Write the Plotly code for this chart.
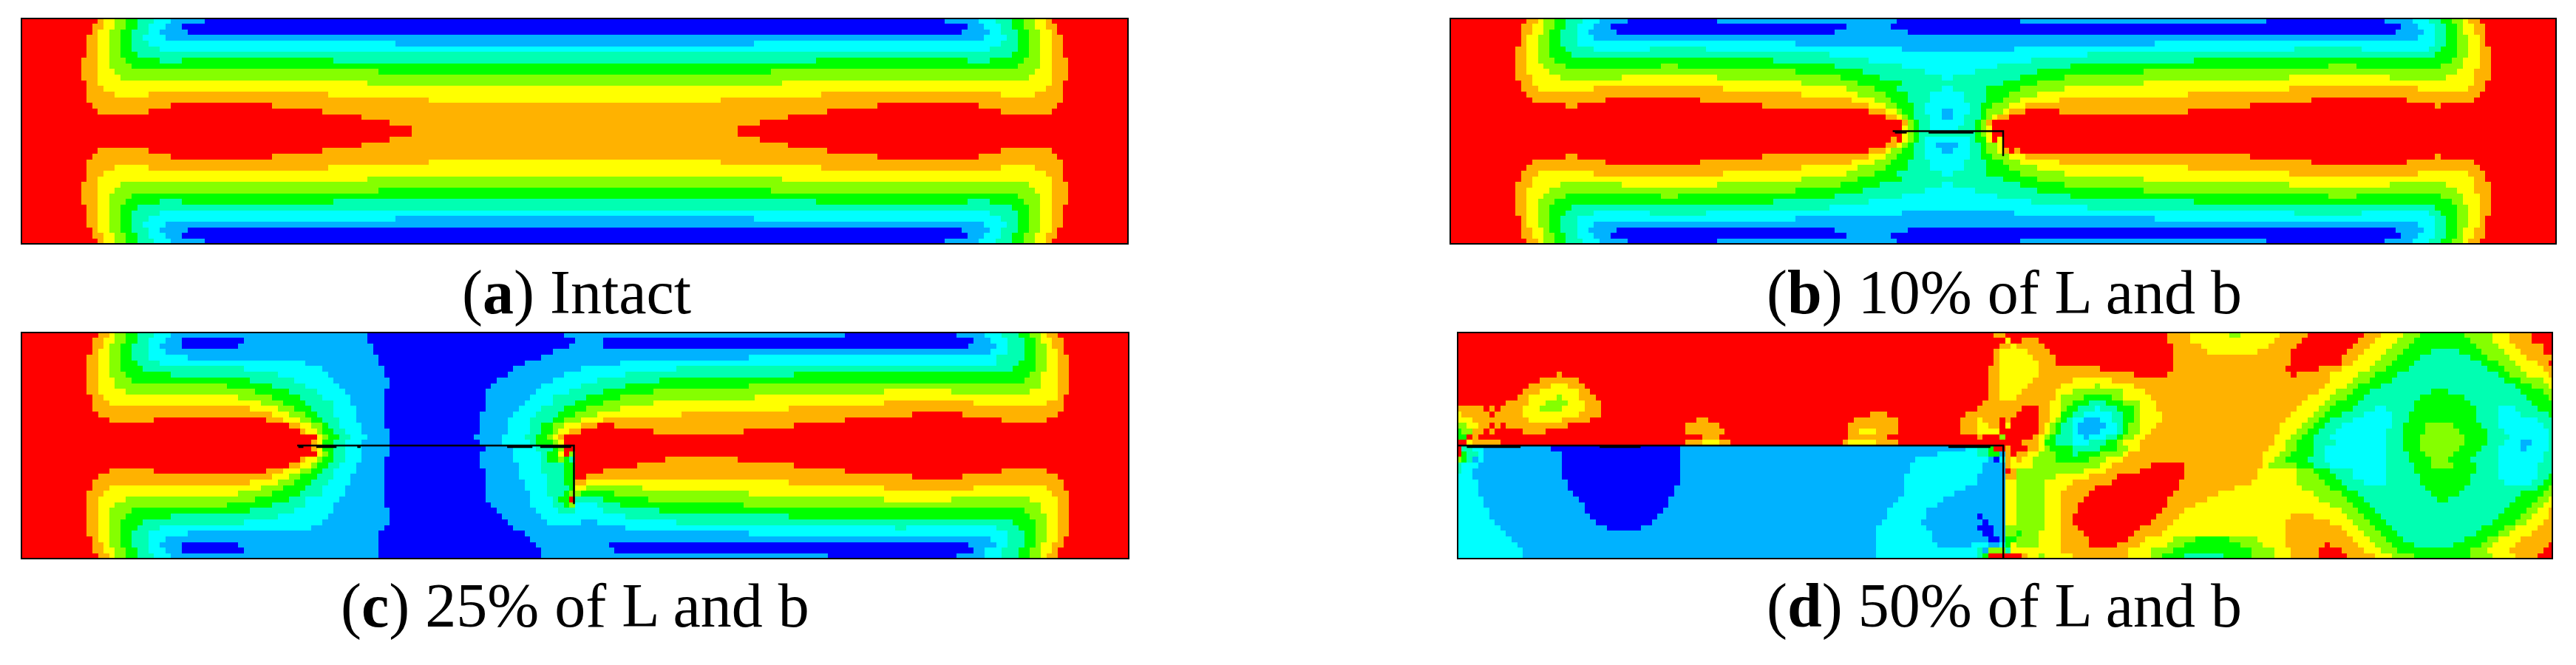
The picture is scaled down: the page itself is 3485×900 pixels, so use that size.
#!/usr/bin/env python3
"""Four stress contour panels on a beam, read off the picture row by row."""
import plotly.graph_objects as go

W, H = 3485, 900

# contour bands, lowest to highest
BAND_COLORS = ["#0000FF", "#00B2FF", "#00FFFF", "#00FFB2", "#00FF00",
               "#85FF00", "#FFFF00", "#FFB200", "#FF0000"]

# each row is "band:end_node", runs of one band up to that node
PANEL_A_TOP_LEFT = [
    "8:14 7:15 6:17 5:19 4:21 3:24 2:27 1:33 0:99",
    "8:13 7:15 6:17 5:19 4:21 3:23 2:26 1:29 0:99",
    "8:13 7:14 6:16 5:18 4:20 3:23 2:25 1:30 0:99",
    "8:12 7:14 6:16 5:18 4:20 3:22 2:26 1:99",
    "8:12 7:14 6:16 5:18 4:20 3:23 2:67 1:99",
    "8:12 7:14 6:16 5:18 4:20 3:25 2:99",
    "8:12 7:14 6:16 5:18 4:21 3:99",
    "8:11 7:14 6:16 5:19 4:25 3:29 4:56 3:99",
    "8:11 7:14 6:16 5:20 4:99",
    "8:11 7:14 6:17 5:64 4:99",
    "8:11 7:14 6:18 5:99",
    "8:12 7:14 6:62 5:99",
    "8:12 7:15 6:99",
    "8:12 7:17 6:23 7:55 6:99",
    "8:12 7:73 6:99",
    "8:13 7:27 8:45 7:99",
    "8:14 7:23 8:54 7:99",
    "8:61 7:99",
    "8:66 7:99",
    "8:70 7:99",
]

PANEL_B_OUTER = [
    "8:14 7:16 6:17 5:19 4:21 3:24 2:27 1:32 0:48 1:80 0:102 1:146 0:167 1:172 2:175 3:177 4:179 5:181 6:182 7:184 8:198",
    "8:13 7:15 6:17 5:19 4:21 3:23 2:26 1:29 0:71 1:79 0:170 1:173 2:176 3:178 4:180 5:181 6:183 7:185 8:198",
    "8:13 7:15 6:17 5:18 4:20 3:23 2:25 1:30 0:69 1:82 0:169 1:174 2:176 3:178 4:180 5:181 6:183 7:185 8:198",
    "8:13 7:14 6:16 5:18 4:20 3:23 2:26 1:173 2:176 3:178 4:180 5:182 6:184 7:185 8:198",
    "8:13 7:14 6:16 5:18 4:20 3:23 2:62 1:126 2:176 3:178 4:180 5:182 6:184 7:185 8:198",
    "8:12 7:14 6:16 5:18 4:21 3:26 2:36 3:46 2:81 1:101 2:151 3:163 2:175 3:177 4:180 5:182 6:184 7:186 8:198",
    "8:12 7:14 6:16 5:18 4:22 3:68 2:114 3:176 4:180 5:182 6:184 7:186 8:198",
    "8:12 7:14 6:16 5:19 4:58 3:75 2:104 3:133 4:179 5:181 6:184 7:186 8:198",
    "8:12 7:14 6:17 5:21 4:38 5:41 4:69 3:81 2:98 3:111 4:157 5:162 4:177 5:181 6:184 7:186 8:198",
    "8:12 7:14 6:18 5:62 4:74 3:85 2:94 3:105 4:124 5:180 6:183 7:186 8:198",
    "8:12 7:15 6:20 5:31 6:48 5:70 4:77 3:88 2:90 3:102 4:110 5:150 6:168 5:178 6:183 7:186 8:198",
    "8:13 7:15 6:63 5:73 4:81 3:99 4:105 5:124 6:183 7:185 8:198",
    "8:13 7:16 6:26 7:49 6:71 5:76 4:80 3:88 2:90 3:96 4:102 5:110 6:150 7:173 6:182 7:185 8:198",
    "8:14 7:63 6:73 5:78 4:82 3:86 2:92 3:96 4:100 5:105 6:132 7:184 8:198",
    "8:15 7:28 8:45 7:72 6:76 5:79 4:82 3:86 2:92 3:96 4:99 5:102 6:109 7:154 8:171 7:183 8:198",
    "8:21 7:23 8:56 7:75 6:78 5:80 4:83 3:85 2:93 3:95 4:97 5:100 6:103 7:143 8:176 7:177 8:198",
]
# the rows round the crack are not mirrored
PANEL_B_MIDDLE = [
    "8:75 7:78 6:80 5:81 4:83 3:85 2:88 1:90 2:93 3:95 4:96 5:99 6:100 7:103 8:109 7:132 8:198",
    "8:78 7:80 6:81 5:82 4:83 3:86 2:88 1:90 2:92 3:95 4:96 5:97 6:98 7:100 8:198",
    "8:81 7:82 5:83 4:84 3:86 2:92 3:94 4:95 5:96 7:97 8:198",
    "8:81 6:82 5:83 4:84 3:86 2:91 3:94 4:95 5:96 6:97 8:198",
    "8:81 6:82 5:83 4:84 3:94 4:95 5:96 6:97 8:198",
    "8:79 7:80 8:81 6:82 5:83 4:84 3:85 2:93 3:94 4:96 6:97 8:98 6:99 8:198",
    "8:78 7:80 6:81 5:82 4:83 3:85 2:87 1:91 2:93 3:95 4:96 5:98 6:99 8:198",
    "8:75 7:78 6:79 5:81 4:83 3:85 2:88 1:90 2:93 3:95 4:96 5:98 6:99 7:100 8:101 7:102 8:198",
]

PANEL_C_ROWS = [
    "8:14 7:16 6:17 5:19 4:21 3:24 2:27 1:62 0:97 1:147 0:167 1:172 2:175 3:178 4:180 5:182 6:183 7:185 8:198",
    "8:13 7:15 6:17 5:19 4:21 3:23 2:26 1:29 0:40 1:62 0:99 1:104 0:170 1:173 2:176 3:179 4:181 5:182 6:184 7:186 8:198",
    "8:13 7:15 6:16 5:18 4:20 3:23 2:25 1:29 0:39 1:63 0:98 1:104 0:169 1:174 2:176 3:179 4:181 5:183 6:184 7:186 8:198",
    "8:13 7:14 6:16 5:18 4:20 3:23 2:26 1:63 0:95 1:173 2:176 3:179 4:181 5:183 6:185 7:186 8:198",
    "8:12 7:14 6:16 5:18 4:20 3:23 2:30 1:64 0:93 1:130 2:174 3:179 4:181 5:183 6:185 7:187 8:198",
    "8:12 7:14 6:16 5:18 4:21 3:25 2:51 1:64 0:90 1:107 2:174 3:178 4:181 5:183 6:185 7:187 8:198",
    "8:12 7:14 6:16 5:18 4:22 3:40 2:54 1:65 0:88 1:100 2:117 3:177 4:181 5:183 6:185 7:187 8:198",
    "8:12 7:14 6:16 5:19 4:27 3:46 2:55 1:65 0:87 1:97 2:108 3:138 4:180 5:182 6:185 7:187 8:198",
    "8:12 7:14 6:17 5:20 4:41 3:49 2:56 1:66 0:85 1:95 2:103 3:114 4:179 5:182 6:185 7:187 8:198",
    "8:12 7:14 6:17 5:37 4:45 3:51 2:57 1:66 0:84 1:93 2:100 3:108 4:130 5:182 6:185 7:187 8:198",
    "8:12 7:14 6:19 5:42 4:48 3:53 2:58 1:65 0:83 1:92 2:98 3:104 4:113 5:154 6:166 5:180 6:185 7:187 8:198",
    "8:13 7:15 6:39 5:45 4:50 3:54 2:59 1:65 0:83 1:91 2:95 3:101 4:107 5:131 6:185 7:186 8:198",
    "8:13 7:16 6:43 5:47 4:51 3:56 2:59 1:65 0:83 1:90 2:95 3:99 4:104 5:113 6:154 7:170 6:183 7:186 8:198",
    "8:13 7:41 6:46 5:49 4:52 3:56 2:60 1:65 0:83 1:89 2:93 3:97 4:101 5:107 6:137 7:186 8:198",
    "8:14 7:45 6:48 5:51 4:53 3:56 2:60 1:65 0:82 1:88 2:92 3:96 4:99 5:103 6:118 7:159 8:168 7:185 8:198",
    "8:16 7:24 8:44 7:47 6:50 5:52 4:54 3:57 2:60 1:65 0:82 1:87 2:91 3:95 4:97 5:100 6:104 7:147 8:175 7:183 8:198",
    "8:48 7:50 6:52 5:54 4:55 3:57 2:61 1:65 0:82 1:87 2:91 3:93 4:95 5:97 6:100 7:103 8:106 7:138 8:198",
    "8:50 7:51 6:53 5:54 4:56 3:58 2:61 1:66 0:82 1:87 2:91 3:93 4:95 5:96 6:98 7:100 8:113 7:129 8:198",
    "8:53 6:54 5:55 4:57 3:59 2:62 1:66 0:81 1:86 2:90 3:92 4:94 5:95 6:96 7:97 8:198",
    "8:52 7:53 6:54 4:56 3:58 2:61 1:66 0:82 1:86 2:91 3:92 4:95 5:96 6:97 8:198",
    "8:52 7:53 6:54 4:56 3:58 2:61 1:66 0:83 1:88 2:92 3:95 4:96 5:97 8:198",
    "8:53 6:54 5:55 4:56 3:58 2:61 1:66 0:82 1:88 2:93 3:94 4:96 6:97 8:98 5:99 8:198",
    "8:50 7:51 6:53 5:54 4:56 3:58 2:61 1:65 0:82 1:88 2:93 3:94 4:96 5:97 4:98 3:99 8:115 7:128 8:198",
    "8:48 7:50 6:52 5:53 4:55 3:57 2:60 1:65 0:82 1:89 2:93 3:97 4:99 8:110 7:138 8:198",
    "8:16 7:24 8:44 7:47 6:50 5:52 4:54 3:56 2:60 1:65 0:83 1:89 2:93 3:97 4:99 8:104 7:147 8:175 7:183 8:198",
    "8:14 7:45 6:48 5:50 4:53 3:56 2:59 1:65 0:83 1:89 2:94 3:97 4:99 8:101 7:159 8:168 7:185 8:198",
    "8:13 7:41 6:46 5:49 4:52 3:55 2:59 1:65 0:83 1:90 2:94 3:97 4:99 7:101 6:137 7:186 8:198",
    "8:13 7:16 6:43 5:47 4:51 3:54 2:58 1:65 0:83 1:90 2:94 3:98 4:99 6:101 5:111 6:154 7:170 6:183 7:186 8:198",
    "8:12 7:15 6:39 5:45 4:50 3:54 2:58 1:65 0:83 1:91 2:94 3:97 4:98 5:100 4:106 5:130 6:184 7:187 8:198",
    "8:12 7:14 6:19 5:42 4:48 3:51 2:57 1:65 0:83 1:91 2:95 3:96 4:98 8:99 3:104 4:112 5:154 6:166 5:180 6:185 7:187 8:198",
    "8:12 7:14 6:17 5:37 4:45 3:51 2:56 1:65 0:84 1:91 2:95 3:97 4:98 5:99 2:103 3:107 4:129 5:182 6:185 7:187 8:198",
    "8:12 7:14 6:16 5:20 4:41 3:49 2:56 1:66 0:85 1:92 2:96 3:99 2:104 3:114 4:179 5:182 6:185 7:187 8:198",
    "8:12 7:14 6:16 5:19 4:27 3:46 2:55 1:66 0:86 1:93 2:108 3:137 4:180 5:183 6:185 7:187 8:198",
    "8:12 7:14 6:16 5:18 4:22 3:40 2:54 1:66 0:87 1:94 2:100 1:103 2:117 3:177 4:181 5:183 6:185 7:187 8:198",
    "8:12 7:14 6:16 5:18 4:21 3:25 2:52 1:65 0:88 1:108 2:156 3:158 2:174 3:178 4:181 5:183 6:185 7:187 8:198",
    "8:12 7:14 6:16 5:18 4:20 3:23 2:30 1:64 0:90 1:130 2:176 3:179 4:181 5:183 6:185 7:187 8:198",
    "8:13 7:14 6:16 5:18 4:20 3:23 2:26 1:64 0:91 1:173 2:176 3:179 4:181 5:183 6:185 7:186 8:198",
    "8:13 7:15 6:16 5:18 4:20 3:23 2:25 1:29 0:39 1:64 0:92 1:105 0:169 1:174 2:176 3:179 4:181 5:182 6:184 7:186 8:198",
    "8:13 7:15 6:17 5:19 4:21 3:23 2:26 1:29 0:40 1:64 0:93 1:106 0:170 1:172 2:175 3:178 4:180 5:182 6:184 7:185 8:198",
    "8:14 7:16 6:17 5:19 4:21 3:24 2:27 1:64 0:93 1:144 0:167 1:172 2:175 3:178 4:180 5:182 6:183 7:185 8:198",
]

PANEL_D_ROWS = [
    "8:96 7:98 8:127 7:131 6:138 5:140 6:147 7:152 8:162 7:165 6:169 5:172 4:180 5:185 6:188 7:192 8:196",
    "8:98 6:99 8:101 7:104 8:127 7:131 6:146 7:151 8:161 7:164 6:168 5:171 4:181 5:185 6:188 7:192 8:196",
    "8:97 7:99 6:100 7:105 8:128 7:133 6:145 7:150 8:160 7:163 6:167 5:170 4:182 5:186 6:189 7:194 8:196",
    "8:96 7:97 6:102 7:106 8:128 7:134 6:143 7:149 8:159 7:162 6:166 5:169 4:174 3:179 4:183 5:187 6:190 7:194 8:196",
    "8:96 7:97 6:103 7:107 8:128 7:149 8:158 7:161 6:165 5:168 4:172 3:181 4:184 5:188 6:191 7:196",
    "8:96 7:97 6:104 7:107 8:128 7:149 8:158 7:160 6:164 5:167 4:171 3:183 4:186 5:189 6:193 7:195 8:196",
    "8:95 7:97 6:104 7:115 8:128 7:148 8:154 7:158 6:163 5:166 4:170 3:184 4:187 5:190 6:194 7:196",
    "8:18 7:19 8:95 7:97 6:104 7:121 8:127 7:149 8:150 7:156 6:161 5:164 4:168 3:186 4:188 5:191 6:195 7:196",
    "8:15 7:22 8:95 7:97 6:103 7:110 6:117 7:156 6:160 5:163 4:167 3:187 4:190 5:194 6:196",
    "8:13 7:17 6:20 7:23 8:95 7:97 6:102 7:108 6:114 5:115 6:121 7:155 6:159 5:161 4:165 3:189 4:192 5:195 6:196",
    "8:12 7:15 6:22 7:24 8:95 7:97 6:101 7:107 6:110 5:119 6:123 7:154 6:157 5:160 4:163 3:174 4:177 3:190 4:194 5:196",
    "8:11 7:13 6:18 5:19 6:22 7:25 8:95 7:97 6:100 7:107 6:108 5:112 4:117 5:119 6:124 7:152 6:156 5:159 4:162 3:172 4:180 3:191 4:195 5:196",
    "8:9 7:13 6:16 5:20 6:23 7:26 8:94 7:106 6:108 5:110 4:113 3:116 4:119 5:122 6:125 7:151 6:155 5:157 4:161 3:171 4:181 3:192 4:196",
    "7:5 8:6 7:7 8:8 7:12 6:15 5:19 6:23 7:26 8:93 7:101 8:104 7:106 6:108 5:109 4:111 3:114 2:115 3:118 4:121 5:122 6:125 7:150 6:154 5:156 4:160 3:164 2:166 3:171 4:182 3:186 2:189 3:193 4:196",
    "6:1 7:6 8:7 7:12 6:22 7:26 8:74 7:77 8:91 7:100 8:104 7:106 6:108 4:110 3:112 2:117 3:119 4:121 5:122 6:126 7:149 6:153 5:155 4:158 3:162 2:167 3:170 4:182 3:186 2:190 3:195 4:196",
    "6:3 7:13 6:19 7:24 8:43 7:45 8:71 7:79 8:90 7:93 6:94 7:97 8:98 7:99 8:104 7:106 6:107 5:108 4:109 3:110 2:112 1:115 2:117 3:119 4:121 5:122 6:126 7:148 6:152 5:154 4:156 3:160 2:167 3:170 4:182 3:186 2:193 3:196",
    "5:2 6:4 7:6 8:7 7:8 8:9 7:20 8:41 7:47 8:70 7:79 8:90 7:93 6:95 7:97 8:98 6:99 8:104 7:105 6:106 5:107 4:108 3:110 2:111 1:116 2:118 3:119 4:120 5:122 6:125 7:147 6:151 5:153 4:155 3:158 2:167 3:169 4:173 5:178 4:183 3:186 2:194 3:196",
    "4:1 5:3 7:5 8:6 7:7 8:12 7:16 8:41 7:48 8:70 7:72 6:75 7:79 8:90 7:93 6:97 8:104 7:105 6:106 5:107 4:108 3:110 2:111 1:115 2:118 3:119 4:120 5:122 6:124 7:147 6:150 5:152 4:154 3:157 2:166 3:169 4:173 5:179 4:184 3:187 2:195 3:196",
    "4:2 8:3 7:4 8:44 7:47 8:70 7:77 8:93 7:94 8:97 5:98 8:103 7:104 6:105 5:106 4:107 3:110 2:112 1:113 2:116 3:118 4:119 5:121 6:123 7:146 6:149 5:151 4:153 3:156 2:166 3:169 4:172 5:180 4:184 3:188 2:195 3:196",
    "8:2 6:3 7:8 8:41 7:44 6:47 7:49 8:69 7:70 6:75 7:79 8:101 7:104 6:105 4:107 3:110 2:113 3:116 4:118 5:119 6:122 7:146 6:148 5:150 4:153 3:157 2:166 3:169 4:172 5:180 4:184 3:187 2:190 1:192 2:195 3:196",
    "8:1 3:3 2:5 1:17 0:40 1:91 2:93 3:95 4:96 8:98 7:99 8:102 7:104 6:105 5:106 4:110 3:115 4:118 5:120 6:122 7:145 6:148 5:150 4:153 3:155 2:166 3:169 4:172 5:179 4:183 3:186 2:190 1:191 2:195 3:196",
    "8:1 4:2 3:4 2:5 1:19 0:40 1:86 2:93 3:95 4:97 1:98 7:99 8:100 7:102 6:104 5:107 4:110 3:111 4:115 5:119 6:120 7:144 6:147 5:149 4:153 3:155 2:166 3:170 4:173 5:178 4:182 3:186 2:194 3:196",
    "5:1 4:2 3:3 1:4 2:5 1:19 0:40 1:82 2:95 1:96 0:97 2:98 7:99 6:100 7:101 6:103 5:107 4:113 5:116 6:119 7:144 6:146 5:148 4:152 3:155 2:166 3:170 4:174 5:177 4:181 3:186 2:194 3:196",
    "3:1 2:4 1:19 0:40 1:81 2:94 1:98 7:99 6:103 5:115 6:117 7:124 8:130 7:144 6:145 5:150 4:153 3:156 2:166 3:171 4:174 5:178 4:182 3:186 2:193 3:196",
    "3:1 2:3 1:19 0:40 1:81 2:94 1:98 8:99 7:100 5:112 6:116 7:122 8:130 7:143 6:150 5:153 4:156 3:160 2:166 3:171 4:182 3:186 2:193 3:196",
    "2:3 1:19 0:40 1:80 2:93 1:98 7:100 5:107 6:113 7:118 8:130 7:143 6:150 5:154 4:157 3:160 2:166 3:172 4:181 3:186 2:193 3:195 4:196",
    "2:4 1:20 0:40 1:80 2:93 1:98 6:100 5:105 6:110 7:117 8:129 7:142 6:150 5:155 4:158 3:162 2:166 3:172 4:181 3:187 2:192 3:194 4:196",
    "2:4 1:20 0:39 1:80 2:91 1:98 6:100 5:105 6:109 7:114 8:129 7:139 6:151 5:156 4:159 3:173 4:180 3:193 4:195 5:196",
    "2:4 1:21 0:39 1:80 2:89 1:98 6:100 5:105 6:108 7:113 8:128 7:136 6:153 5:158 4:161 3:174 4:179 3:190 4:194 5:196",
    "2:5 1:22 0:38 1:79 2:87 1:98 6:100 5:105 6:108 7:112 8:127 7:134 6:154 5:159 4:162 3:175 4:177 3:189 4:193 5:195 6:196",
    "2:5 1:23 0:38 1:78 2:86 1:98 6:100 5:105 6:108 7:111 8:127 7:132 6:156 5:160 4:163 3:188 4:192 5:194 6:196",
    "2:6 1:23 0:37 1:77 2:84 1:98 6:100 5:105 6:108 7:111 8:126 7:130 6:158 5:161 4:164 3:187 4:191 5:193 6:195 7:196",
    "2:6 1:24 0:36 1:77 2:84 1:93 0:94 1:98 6:100 5:105 6:108 7:110 8:125 7:129 6:149 7:153 6:159 5:162 4:165 3:186 4:190 5:192 6:195 7:196",
    "2:7 1:25 0:35 1:76 2:83 1:94 0:95 1:98 6:100 5:105 6:108 7:110 8:124 7:128 6:148 7:156 6:160 5:163 4:166 3:185 4:189 5:191 6:194 7:196",
    "2:8 1:27 0:33 1:75 2:84 1:93 0:96 1:98 5:105 6:108 7:111 8:122 7:127 6:148 7:158 6:161 5:164 4:167 3:183 4:187 5:189 6:193 7:196",
    "2:9 1:75 2:85 1:94 0:96 1:98 5:100 4:101 5:104 6:108 7:112 8:121 7:126 6:148 7:159 6:162 5:165 4:168 3:182 4:186 5:188 6:192 7:196",
    "2:10 1:75 2:85 1:95 0:97 1:98 4:100 5:104 6:108 7:113 8:120 7:123 6:128 5:132 4:138 5:143 6:148 7:160 6:163 5:166 4:169 3:180 4:184 5:186 6:190 7:196",
    "2:11 1:75 2:86 1:92 2:95 1:97 2:98 4:99 6:100 5:104 6:108 7:113 8:118 7:122 6:127 5:130 4:140 5:144 6:148 7:155 8:156 7:161 6:164 5:167 4:171 3:178 4:183 5:185 6:189 7:195 8:196",
    "2:12 1:75 2:93 3:94 1:95 5:98 3:99 6:108 7:120 6:124 5:128 4:142 5:146 6:149 7:154 8:158 7:162 6:165 5:168 4:181 5:184 6:188 7:194 8:196",
    "2:12 1:75 2:93 3:94 4:95 8:101 7:102 6:104 5:105 6:110 7:120 6:124 5:126 4:130 3:137 4:142 5:146 6:149 7:154 8:159 7:164 6:167 5:171 4:181 5:185 6:189 7:193 8:196",
]

# crack outlines in node / row units, and the short thick stretches below them
CRACK_B_X = [78.8, 98.5, 98.5]
CRACK_B_Y = [19.8, 19.8, 24.2]
CRACK_B_TABS = [(79.2, 81.3), (85.2, 93.2)]
CRACK_C_X = [49.0, 98.3, 98.3]
CRACK_C_Y = [19.8, 19.8, 30.1]
CRACK_C_TABS = [(49.2, 50.1), (52.4, 56.0), (59.7, 60.3), (86.4, 90.9), (92.3, 97.8)]
CRACK_D_X = [0.0, 97.2, 97.2]
CRACK_D_Y = [19.8, 19.8, 39.6]
CRACK_D_TABS = [(1.5, 11.1), (25.2, 32.5), (87.4, 94.9)]

CAPTIONS = ["(<b>a</b>) Intact", "(<b>b</b>) 10% of L and b",
            "(<b>c</b>) 25% of L and b", "(<b>d</b>) 50% of L and b"]


def expand(row, n):
    cells = []
    for run in row.split():
        band, end = run.split(":")
        cells += [int(band)] * (int(end) - len(cells))
    return (cells + [cells[-1]] * n)[:n]


def node_edges(n):
    # the plot is nodal: first and last cells are half as wide
    return [0, 0.5] + [i + 0.5 for i in range(1, n - 1)] + [n - 1]


def row_edges(n):
    return [0] + [i + 0.79 for i in range(n - 1)] + [n - 0.42]


half = [expand(r, 99) for r in PANEL_A_TOP_LEFT]
z_a = [r + r[::-1] for r in half]
z_a = z_a + z_a[::-1]
z_b = [expand(r, 198) for r in PANEL_B_OUTER + PANEL_B_MIDDLE + PANEL_B_OUTER[::-1]]
z_c = [expand(r, 198) for r in PANEL_C_ROWS]
z_d = [expand(r, 196) for r in PANEL_D_ROWS]

# pixel boxes of the four plots: left, right, top, bottom
panels = [
    (z_a, (30, 1525, 26, 329), None),
    (z_b, (1963, 3457, 26, 329), (CRACK_B_X, CRACK_B_Y, CRACK_B_TABS)),
    (z_c, (30, 1526, 451, 755), (CRACK_C_X, CRACK_C_Y, CRACK_C_TABS)),
    (z_d, (1973, 3452, 451, 755), (CRACK_D_X, CRACK_D_Y, CRACK_D_TABS)),
]
caption_pos = [(780, 396), (2711, 396), (778, 820), (2711, 820)]

scale = [[i / 8, c] for i, c in enumerate(BAND_COLORS)]

fig = go.Figure()
layout = {}
for i, (z, box, crack) in enumerate(panels):
    name = "" if i == 0 else str(i + 1)
    left, right, top, bottom = box
    nx, ny = len(z[0]), len(z)
    xa, ya = f"x{name}", f"y{name}"
    fig.add_trace(go.Heatmap(
        z=z, x=node_edges(nx), y=row_edges(ny), xaxis=xa, yaxis=ya,
        colorscale=scale, zmin=0, zmax=8, showscale=False, hoverinfo="skip",
    ))
    if crack:
        cx, cy, tabs = crack
        fig.add_trace(go.Scatter(
            x=cx, y=cy, xaxis=xa, yaxis=ya, mode="lines",
            line=dict(color="black", width=2.5), showlegend=False,
        ))
        tx, ty = [], []
        for a, b in tabs:
            tx += [a, b, None]
            ty += [cy[0] + 0.25, cy[0] + 0.25, None]
        fig.add_trace(go.Scatter(
            x=tx, y=ty, xaxis=xa, yaxis=ya, mode="lines",
            line=dict(color="black", width=2.5), showlegend=False,
        ))
    layout[f"xaxis{name}"] = dict(
        domain=[left / W, right / W], range=[0, nx - 1], anchor=ya,
        showticklabels=False, ticks="", showgrid=False, zeroline=False,
        showline=True, mirror=True, linecolor="black", linewidth=2,
    )
    layout[f"yaxis{name}"] = dict(
        domain=[1 - bottom / H, 1 - top / H], range=[ny - 0.42, 0], anchor=xa,
        showticklabels=False, ticks="", showgrid=False, zeroline=False,
        showline=True, mirror=True, linecolor="black", linewidth=2,
    )

annotations = [
    dict(text=t, x=cx / W, y=1 - cy / H, xref="paper", yref="paper",
         xanchor="center", yanchor="middle", showarrow=False,
         font=dict(family="Liberation Serif", size=84, color="black"))
    for t, (cx, cy) in zip(CAPTIONS, caption_pos)
]

fig.update_layout(
    width=W, height=H, margin=dict(l=0, r=0, t=0, b=0),
    paper_bgcolor="white", plot_bgcolor="white", showlegend=False,
    annotations=annotations, **layout,
)

fig.write_html("out.html", config={"displayModeBar": False},
               post_script="document.body.style.margin='0';")
